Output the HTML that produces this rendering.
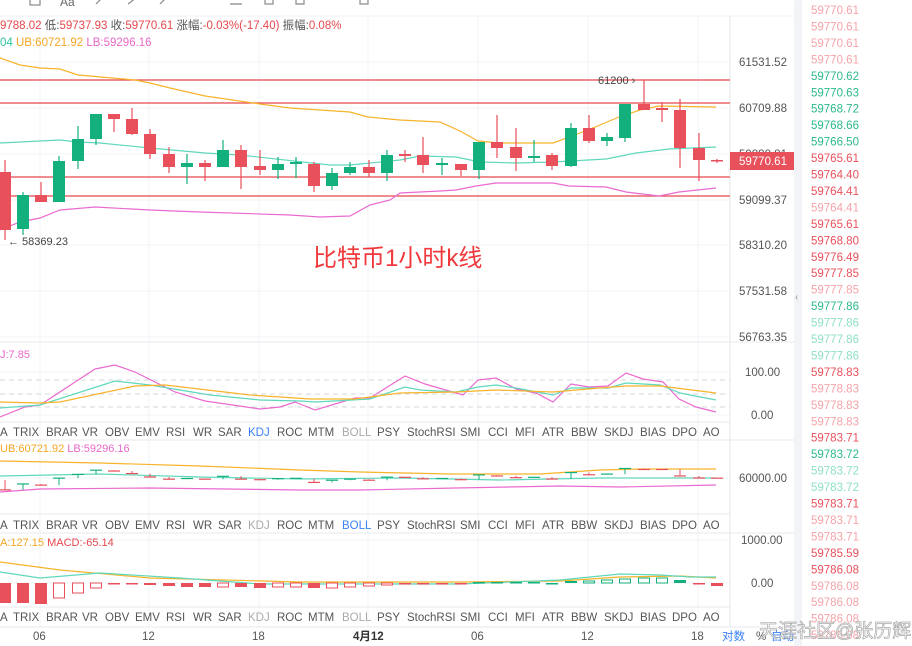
<!DOCTYPE html>
<html><head><meta charset="utf-8"><style>
html,body{margin:0;padding:0;background:#fff;width:912px;height:646px;overflow:hidden;font-family:"Liberation Sans","Noto Sans CJK SC",sans-serif}
svg{position:absolute;left:0;top:0}
</style></head><body>
<svg id="s" width="912" height="646" xmlns="http://www.w3.org/2000/svg" font-family="Liberation Sans, Noto Sans CJK SC, sans-serif">
<rect x="0" y="0" width="912" height="646" fill="#fff"/>
<rect x="794" y="0" width="8" height="646" fill="#f3f4f7"/>
<text x="795" y="300" font-size="10" fill="#999">‹</text>
<line x1="0" y1="16" x2="794" y2="16" stroke="#eef0f3"/>
<g fill="none" stroke="#888" stroke-width="1.2">
<rect x="30" y="-4" width="10" height="9"/><rect x="265" y="-4" width="8" height="8"/><rect x="360" y="-4" width="8" height="8"/>
<path d="M96 4l6-6M128 4l8-6M160 4l6-6M230 4h12M296 -2v6h8v-6"/>
</g>
<text x="60" y="6" font-size="12" fill="#666">Aa</text>
<g stroke="#f1f3f6" stroke-width="1">
<line x1="40" y1="16" x2="40" y2="628"/><line x1="149" y1="16" x2="149" y2="628"/><line x1="259" y1="16" x2="259" y2="628"/><line x1="368" y1="16" x2="368" y2="628"/><line x1="478" y1="16" x2="478" y2="628"/><line x1="588" y1="16" x2="588" y2="628"/><line x1="698" y1="16" x2="698" y2="628"/>
<line x1="0" y1="62" x2="730" y2="62"/><line x1="0" y1="108" x2="730" y2="108"/><line x1="0" y1="154" x2="730" y2="154"/><line x1="0" y1="200" x2="730" y2="200"/><line x1="0" y1="245" x2="730" y2="245"/><line x1="0" y1="291" x2="730" y2="291"/><line x1="0" y1="337" x2="730" y2="337"/>
<line x1="0" y1="372" x2="730" y2="372"/><line x1="0" y1="415" x2="730" y2="415"/><line x1="0" y1="478" x2="730" y2="478"/><line x1="0" y1="540" x2="730" y2="540"/><line x1="0" y1="583" x2="730" y2="583"/>
</g>
<g stroke="#e8eaee"><line x1="0" y1="342" x2="794" y2="342"/><line x1="0" y1="440" x2="794" y2="440"/><line x1="0" y1="533" x2="794" y2="533"/><line x1="0" y1="627" x2="794" y2="627"/>
<line x1="0" y1="422" x2="730" y2="422"/><line x1="0" y1="514" x2="730" y2="514"/><line x1="0" y1="607" x2="730" y2="607"/></g>
<line x1="730" y1="16" x2="730" y2="627" stroke="#e3e5e9"/>
<text x="0" y="29" font-size="11.5" fill="#e5484d">9788.02 <tspan fill="#555">低:</tspan>59737.93 <tspan fill="#555">收:</tspan>59770.61 <tspan fill="#555">涨幅:</tspan>-0.03%(-17.40) <tspan fill="#555">振幅:</tspan>0.08%</text>
<text x="0" y="46" font-size="11.5" fill="#2ec4a0">04 <tspan fill="#f5a623">UB:60721.92</tspan> <tspan fill="#e968c8">LB:59296.16</tspan></text>
<g stroke="#e5484d" stroke-width="1.3"><line x1="0" y1="80" x2="730" y2="80"/><line x1="0" y1="103" x2="730" y2="103"/><line x1="0" y1="177" x2="730" y2="177"/><line x1="0" y1="196" x2="730" y2="196"/></g>
<polyline fill="none" stroke="#f7b32b" stroke-width="1.2" points="0,58 20,65 40,68 60,69 78,75 135,80 150,83 170,88 205,96 260,104 290,108 350,112 368,117 400,120 440,122 460,131 478,141 500,143 553,143 575,135 600,125 619,117 640,110 659,106 716,107"/>
<polyline fill="none" stroke="#5fd8bb" stroke-width="1.2" points="0,143 40,141 60,140 78,142 100,143 150,148 205,153 240,155 330,165 350,165 400,160 420,156 456,157 480,162 516,163 553,162 606,159 636,153 669,149 716,147"/>
<polyline fill="none" stroke="#ea6ad0" stroke-width="1.2" points="0,230 20,222 40,218 60,210 95,207 150,210 200,212 290,215 320,217 350,216 370,205 390,200 400,193 440,191 456,190 476,186 496,183 553,183 569,186 606,187 626,192 659,196 679,192 716,188"/>
<g id="candles"></g>
<text x="598" y="84" font-size="11" fill="#444">61200 ›</text>
<text x="8" y="245" font-size="11" fill="#444">← 58369.23</text>
<text x="313" y="266" font-size="24" fill="#f0393c">比特币1小时k线</text>
<g font-size="11.5" fill="#555">
<text x="739" y="66">61531.52</text><text x="739" y="112">60709.88</text><text x="739" y="158">59888.81</text><text x="739" y="204">59099.37</text><text x="739" y="249">58310.20</text><text x="739" y="295">57531.58</text><text x="739" y="341">56763.35</text>
<text x="745" y="376">100.00</text><text x="751" y="419">0.00</text><text x="739" y="482">60000.00</text><text x="741" y="544">1000.00</text><text x="751" y="587">0.00</text>
</g>
<rect x="730" y="152" width="64" height="18" fill="#e8505b"/>
<text x="739" y="165" font-size="11.5" fill="#fff">59770.61</text>
<text x="0" y="358" font-size="11" fill="#e968c8">J:7.85</text>
<g stroke="#d5d7db" stroke-dasharray="5,4"><line x1="0" y1="380" x2="730" y2="380"/><line x1="0" y1="394" x2="730" y2="394"/><line x1="0" y1="407" x2="730" y2="407"/></g>
<polyline fill="none" stroke="#ea6ad0" stroke-width="1.2" points="0,417 25,407 40,405 95,369 115,365 135,372 175,392 205,401 260,409 280,407 295,402 315,410 355,398 370,398 405,376 425,384 456,393 463,395 478,380 496,378 516,389 536,393 553,402 571,384 589,387 608,386 626,373 643,379 663,382 679,399 696,407 716,412"/>
<polyline fill="none" stroke="#5fd8bb" stroke-width="1.2" points="0,408 40,405 115,381 150,385 210,395 260,400 300,401 315,402 370,399 405,387 420,390 456,392 478,387 496,385 516,388 553,395 571,388 608,388 626,383 660,385 680,393 716,400"/>
<polyline fill="none" stroke="#f7b32b" stroke-width="1.2" points="0,402 40,403 60,402 135,386 165,385 250,395 310,399 355,399 400,393 456,392 496,390 553,392 600,388 626,386 660,386 716,393"/>
<text x="0" y="452" font-size="11" fill="#f5a623">UB:60721.92 <tspan fill="#e968c8">LB:59296.16</tspan></text>
<polyline fill="none" stroke="#f7b32b" stroke-width="1.2" points="0,461 100,463 200,466 300,470 360,472 450,474 540,474 600,470 640,469 716,469"/>
<polyline fill="none" stroke="#5fd8bb" stroke-width="1.2" points="0,476 100,474 200,477 300,479 400,478 500,480 600,478 716,478"/>
<polyline fill="none" stroke="#ea6ad0" stroke-width="1.2" points="0,492 40,489 150,488 300,490 360,490 456,488 560,486 620,487 716,485"/>
<g id="mini"></g>
<text x="0" y="546" font-size="11" fill="#f5a623">A:127.15 <tspan fill="#e5484d">MACD:-65.14</tspan></text>
<polyline fill="none" stroke="#f7b32b" stroke-width="1.2" points="0,562 60,570 150,578 300,582 460,582 560,581 620,577 680,576 716,578"/>
<polyline fill="none" stroke="#5fd8bb" stroke-width="1.2" points="0,572 40,578 100,573 180,578 260,584 460,584 560,580 620,574 660,575 690,577 716,577"/>
<g id="macd"></g>
<g font-size="11.5" fill="#555" id="lbl"></g>
<g font-size="11.5" fill="#555">
<text x="33" y="640">06</text><text x="142" y="640">12</text><text x="252" y="640">18</text><text x="353" y="640" font-weight="bold" fill="#333">4月12</text><text x="471" y="640">06</text><text x="581" y="640">12</text><text x="691" y="640">18</text>
<text x="722" y="640" fill="#3b82f6">对数</text><text x="756" y="640">%</text><text x="771" y="640" fill="#3b82f6">自动</text>
</g>
<g id="list" font-size="11.5"></g>
<text x="759" y="637" font-size="19" fill="#fff" fill-opacity="0.6" stroke="#aaa" stroke-width="0.7">天涯社区@张历辉</text>
</svg>
<script>
var NS="http://www.w3.org/2000/svg";
function el(p,t,a,txt){var e=document.createElementNS(NS,t);for(var k in a)e.setAttribute(k,a[k]);if(txt)e.textContent=txt;document.getElementById(p).appendChild(e);return e;}
var R="#e8505b",G="#13b07e";
var c=[[5,'r',172,230,160,240],[23,'g',195,229,192,235],[41,'r',195,202,182,202],[59,'g',161,202,156,202],[78,'g',139,161,126,169],[96,'g',114,139,114,145],[114,'r',114,119,114,132],[132,'r',119,134,108,135],[150,'r',134,154,129,159],[169,'r',154,167,147,173],[187,'g',163,167,154,184],[205,'r',163,167,160,181],[223,'g',150,167,140,167],[241,'r',150,167,145,189],[260,'r',166,170,150,175],[278,'g',164,170,157,179],[296,'g',162,164,157,178],[314,'r',164,186,162,192],[332,'g',173,186,168,190],[350,'g',167,173,162,175],[369,'r',167,173,160,177],[387,'g',155,173,150,181],[405,'r',154,156,150,162],[423,'r',155,165,137,173],[442,'g',163,165,158,175],[461,'r',164,170,164,176],[479,'g',142,170,142,179],[497,'r',142,148,115,158],[516,'r',147,158,128,171],[534,'g',156,158,140,162],[552,'r',155,166,153,170],[571,'g',128,166,123,167],[589,'r',128,141,115,143],[607,'g',137,141,133,146],[625,'g',104,138,104,142],[644,'r',104,110,80,110],[662,'r',108,110,102,122],[680,'r',110,148,99,168],[699,'r',148,160,133,181],[717,'r',160,161,159,163]];
c.forEach(function(d){var col=d[1]=='r'?R:G;
el('candles','line',{x1:d[0],x2:d[0],y1:d[4],y2:d[5],stroke:col,'stroke-width':1.2});
el('candles','rect',{x:d[0]-6,y:d[2],width:12,height:Math.max(1.5,d[3]-d[2]),fill:col});
var my=function(y){return 478+(y-160)*0.17;};
el('mini','line',{x1:d[0]-6,x2:d[0]+6,y1:my(d[1]=='r'?d[3]:d[2]),y2:my(d[1]=='r'?d[3]:d[2]),stroke:col,'stroke-width':1.2});
el('mini','line',{x1:d[0],x2:d[0],y1:my(d[2]),y2:my(d[3]),stroke:col,'stroke-width':1});
});
var h=[[5,20,'f','r'],[23,20,'f','r'],[41,21,'f','r'],[59,15,'h','r'],[78,10,'h','r'],[96,5,'h','r'],[114,1,'f','r'],[132,1,'f','r'],[150,2,'f','r'],[169,3,'f','r'],[187,4,'f','r'],[205,4,'f','r'],[223,4,'h','r'],[241,4,'f','r'],[260,5,'f','r'],[278,4,'h','r'],[296,4,'h','r'],[314,5,'f','r'],[332,5,'h','r'],[350,4,'h','r'],[369,3,'h','r'],[387,2,'h','r'],[405,1,'f','r'],[423,1,'f','r'],[442,1,'f','r'],[461,1,'f','r'],[479,-1,'f','g'],[497,-1,'f','g'],[516,-1,'f','g'],[534,-1,'f','g'],[552,1,'f','g'],[571,-2,'f','g'],[589,-2,'h','g'],[607,-3,'h','g'],[625,-4,'h','g'],[644,-5,'h','g'],[662,-5,'h','g'],[680,-3,'f','g'],[699,1,'f','r'],[717,3,'f','r']];
h.forEach(function(d){var col=d[3]=='r'?R:G;var y=d[1]>=0?583:583+d[1];var hh=Math.max(1.5,Math.abs(d[1]));
if(d[2]=='f')el('macd','rect',{x:d[0]-6,y:y,width:12,height:hh,fill:col});else el('macd','rect',{x:d[0]-5.5,y:y,width:11,height:hh,fill:'#fff',stroke:col,'stroke-width':1});});
var L=[['A',0],['TRIX',13],['BRAR',46],['VR',82],['OBV',105],['EMV',135],['RSI',166],['WR',193],['SAR',218],['KDJ',248],['ROC',277],['MTM',308],['BOLL',342],['PSY',377],['StochRSI',407],['SMI',460],['CCI',488],['MFI',515],['ATR',542],['BBW',571],['SKDJ',604],['BIAS',640],['DPO',672],['AO',703]];
[[436,'KDJ'],[529,'BOLL'],[621,'']].forEach(function(r){L.forEach(function(l){var f='#555';if(l[0]==r[1])f='#3b82f6';else if((l[0]=='KDJ'||l[0]=='BOLL'))f='#aaa';el('lbl','text',{x:l[1],y:r[0],fill:f},l[0]);});});
var V=[['59770.61','l'],['59770.61','l'],['59770.61','l'],['59770.61','l'],['59770.62','g'],['59770.63','g'],['59768.72','g'],['59768.66','g'],['59766.50','g'],['59765.61','r'],['59764.40','r'],['59764.41','r'],['59764.41','l'],['59765.61','r'],['59768.80','r'],['59776.49','r'],['59777.85','r'],['59777.85','l'],['59777.86','g'],['59777.86','lg'],['59777.86','lg'],['59777.86','lg'],['59778.83','r'],['59778.83','l'],['59778.83','l'],['59778.83','l'],['59783.71','r'],['59783.72','g'],['59783.72','lg'],['59783.72','lg'],['59783.71','r'],['59783.71','l'],['59783.71','l'],['59785.59','r'],['59786.08','r'],['59786.08','l'],['59786.08','l'],['59786.08','l'],['59786.08','l']];
var C={l:'#f5a3a8',g:'#2bb98c',lg:'#8fe0c6',r:'#e8505b'};
V.forEach(function(v,i){el('list','text',{x:811,y:14+i*16.45,fill:C[v[1]]},v[0]);});
</script>
</body></html>
